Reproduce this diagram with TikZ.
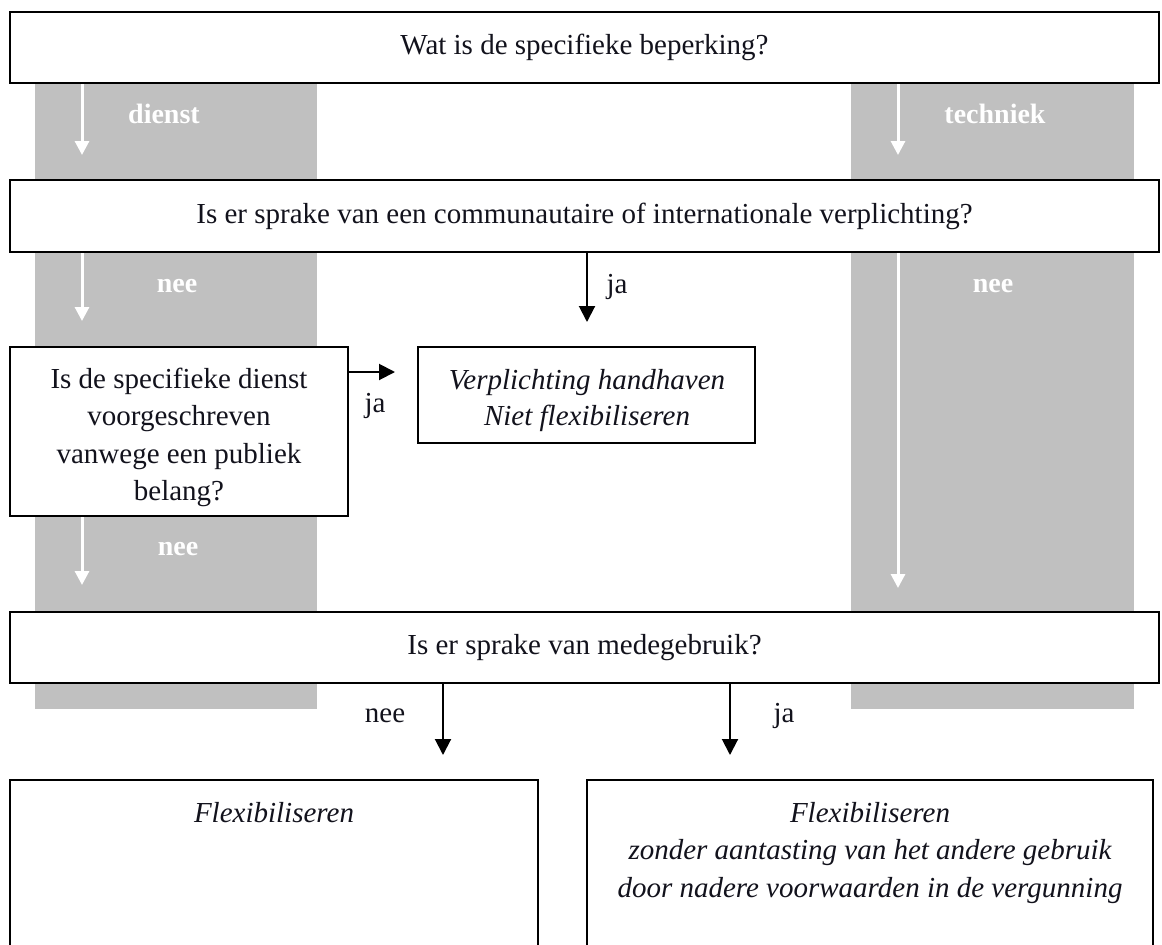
\documentclass[tikz,border=0pt]{standalone}
\usepackage{fontspec}
\setmainfont{Liberation Serif}
\usetikzlibrary{arrows.meta}
\definecolor{lanegray}{RGB}{192,192,192}
\definecolor{ink}{RGB}{18,18,28}

\begin{document}
\begin{tikzpicture}[x=1pt,y=-1pt,
  every node/.style={inner sep=0pt,outer sep=0pt},
  lane/.style={fill=lanegray,draw=none},
  qbox/.style={draw=black,line width=2.8pt,fill=white,outer sep=1.4pt,
    text=ink,font=\fontsize{29}{37.5}\selectfont,text height=21pt,text depth=7pt},
  qtext/.style={text=ink,align=center,font=\fontsize{29}{37.5}\selectfont},
  itext/.style={text=ink,align=center,font=\fontsize{29}{37.5}\selectfont\itshape},
  lanelabel/.style={text=white,font=\fontsize{28}{34}\selectfont\bfseries,anchor=base},
  branchlabel/.style={text=ink,font=\fontsize{29}{34}\selectfont,anchor=base},
  whitearrow/.style={draw=white,line width=3pt,-{Triangle[width=14pt,length=14pt]}},
  blackarrow/.style={draw=black,line width=2pt,-{Triangle[width=16pt,length=16pt]}}]

\useasboundingbox (0,0) rectangle (1162,945);
\clip (0,0) rectangle (1162,945);

% grey lanes for the two kinds of restriction
\node[lane,minimum width=282pt,minimum height=626pt] (laneL) at (176,396) {};
\node[lane,minimum width=283pt,minimum height=626pt] (laneR) at (992.5,396) {};

% question and outcome boxes
\node[qbox,minimum width=1149pt,minimum height=71pt] (q1) at (584.5,47.5)
  {Wat is de specifieke beperking?};
\node[qbox,minimum width=1149pt,minimum height=72pt] (q2) at (584.5,216)
  {Is er sprake van een communautaire of internationale verplichting?};
\node[qbox,minimum width=338pt,minimum height=169pt] (q3) at (179,431.5) {};
\node[qtext] (q3t) at (179,437.5)
  {Is de specifieke dienst\\voorgeschreven\\vanwege een publiek\\belang?};
\node[qbox,minimum width=337pt,minimum height=96pt] (keep) at (586.5,395) {};
\node[itext,font=\fontsize{29}{36}\selectfont\itshape] (keept) at (587,401)
  {Verplichting handhaven\\Niet flexibiliseren};
\node[qbox,minimum width=1149pt,minimum height=71pt] (q5) at (584.5,647.5)
  {Is er sprake van medegebruik?};
\node[qbox,minimum width=528pt,minimum height=210pt] (flexA) at (274,885) {};
\node[itext,anchor=base] (flexAt) at (274,822) {Flexibiliseren};
\node[qbox,minimum width=566pt,minimum height=210pt] (flexB) at (870,885) {};
\node[itext] (flexBt) at (870,853)
  {Flexibiliseren\\zonder aantasting van het andere gebruik\\door nadere voorwaarden in de vergunning};

% arrow end points
\coordinate (wL1) at (82,155);
\coordinate (wL2) at (82,321);
\coordinate (wL3) at (82,585);
\coordinate (wR1) at (898,155);
\coordinate (wR2) at (898,588);
\coordinate (jaDown) at (587,322);
\coordinate (jaRight) at (395,372);
\coordinate (neeEnd) at (443,755);
\coordinate (jaEnd) at (730,755);

% white arrows inside the lanes
\draw[whitearrow] (q1.south -| wL1) -- (wL1);
\draw[whitearrow] (q2.south -| wL2) -- (wL2);
\draw[whitearrow] (q3.south -| wL3) -- (wL3);
\draw[whitearrow] (q1.south -| wR1) -- (wR1);
\draw[whitearrow] (q2.south -| wR2) -- (wR2);

% lane labels
\node[lanelabel] (tDienst) at (164,123) {dienst};
\node[lanelabel] (tNeeL1) at (177,292) {nee};
\node[lanelabel] (tNeeL2) at (178,555) {nee};
\node[lanelabel] (tTechniek) at (995,123) {techniek};
\node[lanelabel] (tNeeR) at (993,292) {nee};

% black arrows between the questions
\draw[blackarrow] (q2.south -| jaDown) -- (jaDown);
\draw[blackarrow] (q3.east |- jaRight) -- (jaRight);
\draw[blackarrow] (q5.south -| neeEnd) -- (neeEnd);
\draw[blackarrow] (q5.south -| jaEnd) -- (jaEnd);

% branch labels
\node[branchlabel] (lJa1) at (617,293) {ja};
\node[branchlabel] (lJa2) at (375,412) {ja};
\node[branchlabel] (lNee) at (385,722) {nee};
\node[branchlabel] (lJa3) at (784,722) {ja};
\end{tikzpicture}
\end{document}
